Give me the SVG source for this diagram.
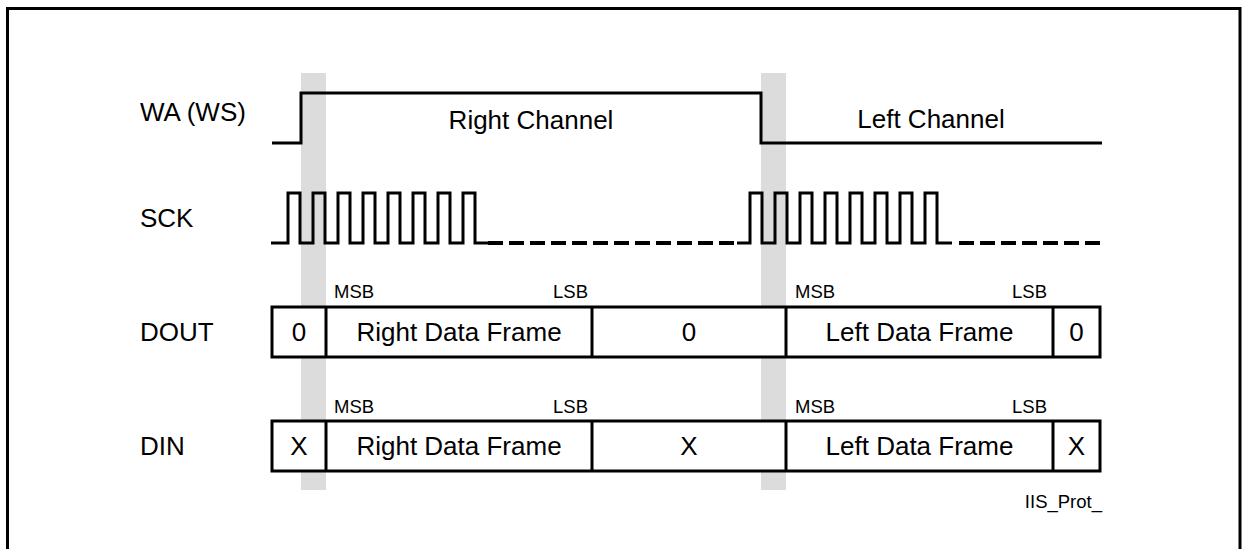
<svg xmlns="http://www.w3.org/2000/svg" width="1242" height="549" viewBox="0 0 1242 549">
<style>
.t{font-family:"Liberation Sans",Arial,sans-serif;font-size:26px;fill:#000}
.s{font-family:"Liberation Sans",Arial,sans-serif;font-size:18.5px;fill:#000}
.m{text-anchor:middle}
.e{text-anchor:end}
.w{fill:none;stroke:#000;stroke-width:3;stroke-linejoin:miter}
.d{fill:none;stroke:#000;stroke-width:4;stroke-dasharray:15 6}
.box{fill:#fff;stroke:#000;stroke-width:3}
.band{fill:#dcdcdc}
</style>
<rect x="0" y="0" width="1242" height="549" fill="#fff"/>
<path d="M7.5,552 V8.5 H1240 V552" fill="none" stroke="#000" stroke-width="3"/>
<g id="bands">
<rect class="band" x="301" y="73" width="25" height="417"/>
<rect class="band" x="761" y="73" width="25" height="417"/>
</g>
<g id="labels">
<text class="t" x="140" y="121">WA (WS)</text>
<text class="t" x="140" y="227">SCK</text>
<text class="t" x="140" y="341">DOUT</text>
<text class="t" x="140" y="455">DIN</text>
</g>
<g id="wa">
<path class="w" d="M272,143 H301 V93 H761 V143 H1102"/>
<text class="t m" x="531" y="129">Right Channel</text>
<text class="t m" x="931" y="128">Left Channel</text>
</g>
<g id="sck">
<path class="w" d="M271,243 H288 V193 H300 V243 H313 V193 H325 V243 H338 V193 H350 V243 H363 V193 H375 V243 H388 V193 H400 V243 H413 V193 H425 V243 H438 V193 H450 V243 H463 V193 H475 V243 H488"/>
<line class="d" x1="488" y1="243" x2="737" y2="243"/>
<path class="w" d="M737,243 H750 V193 H762 V243 H775 V193 H787 V243 H800 V193 H812 V243 H825 V193 H837 V243 H850 V193 H862 V243 H875 V193 H887 V243 H900 V193 H912 V243 H925 V193 H937 V243 H952"/>
<line class="d" x1="959" y1="243" x2="1102" y2="243" stroke-dasharray="14 7"/>
</g>
<g id="dout">
<rect class="box" x="272" y="307" width="828" height="50"/>
<path class="w" d="M326,307 V357 M592,307 V357 M786,307 V357 M1053,307 V357"/>
<text class="s" x="334" y="298">MSB</text>
<text class="s e" x="588" y="298">LSB</text>
<text class="s" x="795" y="298">MSB</text>
<text class="s e" x="1047" y="298">LSB</text>
<text class="t m" x="299" y="341">0</text>
<text class="t m" x="459" y="341">Right Data Frame</text>
<text class="t m" x="689" y="341">0</text>
<text class="t m" x="919.5" y="341">Left Data Frame</text>
<text class="t m" x="1076.5" y="341">0</text>
</g>
<g id="din">
<rect class="box" x="272" y="421" width="828" height="50"/>
<path class="w" d="M326,421 V471 M592,421 V471 M786,421 V471 M1053,421 V471"/>
<text class="s" x="334" y="413">MSB</text>
<text class="s e" x="588" y="413">LSB</text>
<text class="s" x="795" y="413">MSB</text>
<text class="s e" x="1047" y="413">LSB</text>
<text class="t m" x="299" y="455">X</text>
<text class="t m" x="459" y="455">Right Data Frame</text>
<text class="t m" x="689" y="455">X</text>
<text class="t m" x="919.5" y="455">Left Data Frame</text>
<text class="t m" x="1076.5" y="455">X</text>
</g>
<text class="s e" x="1102" y="508">IIS_Prot_</text>
</svg>
